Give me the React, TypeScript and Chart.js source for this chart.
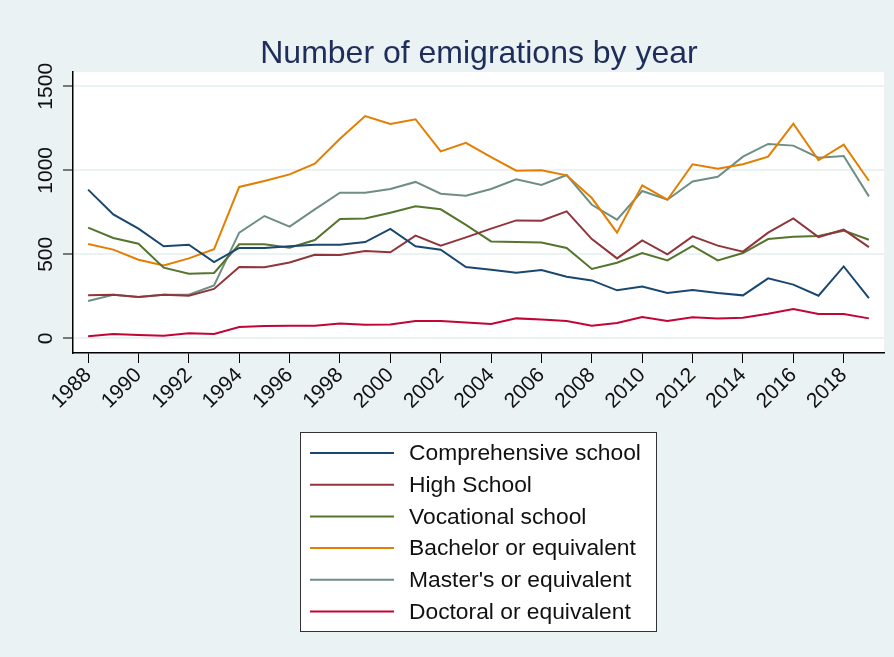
import React, { useEffect, useRef } from "react";
import { Chart, registerables } from "chart.js";

Chart.register(...registerables);

const years = [1988,1989,1990,1991,1992,1993,1994,1995,1996,1997,1998,1999,2000,2001,2002,2003,2004,2005,2006,2007,2008,2009,2010,2011,2012,2013,2014,2015,2016,2017,2018,2019];

const comprehensive = [885,738,653,548,557,454,538,538,548,557,557,573,651,548,528,425,409,391,407,367,345,286,308,270,288,270,256,357,320,254,428,240];
const highSchool = [256,260,246,260,254,294,425,423,452,498,496,520,512,611,552,601,653,702,700,756,591,476,583,500,607,552,516,629,714,603,647,543];
const vocational = [659,597,563,421,385,389,560,560,540,585,711,713,748,786,768,675,577,573,571,538,413,450,508,464,550,464,508,591,605,609,641,587];
const bachelor = [561,528,468,434,476,530,901,937,976,1040,1188,1323,1276,1304,1113,1163,1079,998,1000,970,835,629,911,825,1036,1010,1036,1081,1278,1060,1153,938];
const masters = [222,260,246,260,260,315,629,728,665,768,867,867,889,931,861,849,889,946,913,972,795,706,877,825,934,962,1081,1157,1147,1075,1085,845];
const doctoral = [12,26,20,16,30,26,67,73,75,75,89,81,83,103,103,95,85,119,113,103,75,91,127,103,125,119,123,147,175,145,145,119];

const seriesLabels = ["Comprehensive school","High School","Vocational school","Bachelor or equivalent","Master's or equivalent","Doctoral or equivalent"];
const seriesColors = ["#1A476F","#90353B","#55752F","#E37E00","#6E8E84","#C10534"];
const seriesValues = [comprehensive, highSchool, vocational, bachelor, masters, doctoral];

const xTickValues = [1988,1990,1992,1994,1996,1998,2000,2002,2004,2006,2008,2010,2012,2014,2016,2018];
const yTickValues = [0,500,1000,1500];

const titleText = "Number of emigrations by year";
const BG = "#EAF2F3";
const FONT = "'Liberation Sans', Arial, sans-serif";

const decorPlugin = {
  id: "decor",
  beforeDraw(chart: any) {
    const { ctx, chartArea } = chart;
    ctx.save();
    ctx.fillStyle = BG;
    ctx.fillRect(0, 0, chart.width, chart.height);
    ctx.fillStyle = "#FFFFFF";
    ctx.fillRect(chartArea.left, chartArea.top, chartArea.right - chartArea.left, chartArea.bottom - chartArea.top);
    ctx.restore();
  },
  afterDraw(chart: any) {
    const { ctx } = chart;
    ctx.save();
    // title
    ctx.fillStyle = "#1E2D59";
    ctx.font = `32px ${FONT}`;
    ctx.textAlign = "center";
    ctx.textBaseline = "alphabetic";
    ctx.fillText(titleText, 479, 63);
    // legend
    const bx = 300, by = 432, bw = 357, bh = 200;
    ctx.fillStyle = "#FFFFFF";
    ctx.fillRect(bx, by, bw, bh);
    ctx.strokeStyle = "#333333";
    ctx.lineWidth = 1;
    ctx.strokeRect(bx + 0.5, by + 0.5, bw - 1, bh - 1);
    const ds = chart.data.datasets;
    ctx.font = `22.8px ${FONT}`;
    ctx.textAlign = "left";
    ctx.textBaseline = "middle";
    for (let i = 0; i < ds.length; i++) {
      const y = 453 + i * 31.7;
      ctx.strokeStyle = ds[i].borderColor;
      ctx.lineWidth = 2;
      ctx.beginPath();
      ctx.moveTo(310, y);
      ctx.lineTo(394, y);
      ctx.stroke();
      ctx.fillStyle = "#111111";
      ctx.fillText(ds[i].label, 409, y + 1);
    }
    ctx.restore();
  },
};

export default function App() {
  const ref = useRef<HTMLCanvasElement | null>(null);
  useEffect(() => {
    if (!ref.current) return;
    const chart = new Chart(ref.current, {
      type: "line",
      data: {
        datasets: seriesLabels.map((label, i) => ({
          label,
          data: years.map((yr, j) => ({ x: yr, y: seriesValues[i][j] })),
          borderColor: seriesColors[i],
          backgroundColor: seriesColors[i],
          borderWidth: 2,
          pointRadius: 0,
          tension: 0,
          fill: false,
        })),
      },
      options: {
        responsive: false,
        animation: false,
        devicePixelRatio: 1,
        layout: { padding: { left: 0, top: 72, right: 10, bottom: 0 } },
        plugins: {
          legend: { display: false },
          title: { display: false },
          tooltip: { enabled: false },
        },
        scales: {
          x: {
            type: "linear",
            min: 1987.4,
            max: 2019.6,
            afterBuildTicks: (scale: any) => {
              scale.ticks = xTickValues.map((v) => ({ value: v }));
            },
            afterFit: (scale: any) => {
              scale.height = 304;
            },
            ticks: {
              autoSkip: false,
              minRotation: 45,
              maxRotation: 45,
              padding: 0,
              color: "#111111",
              font: { family: FONT, size: 21 },
              callback: (v: any) => String(v),
            },
            grid: {
              drawOnChartArea: false,
              tickLength: 10,
              tickColor: "#000000",
              tickWidth: 1,
            },
            border: { display: true, color: "#000000", width: 1.5 },
          },
          y: {
            type: "linear",
            min: -87,
            max: 1585,
            afterBuildTicks: (scale: any) => {
              scale.ticks = yTickValues.map((v) => ({ value: v }));
            },
            afterFit: (scale: any) => {
              scale.width = 73;
            },
            ticks: {
              minRotation: 90,
              maxRotation: 90,
              crossAlign: "center",
              padding: -7,
              color: "#111111",
              font: { family: FONT, size: 21 },
              callback: (v: any) => String(v),
            },
            grid: {
              color: BG,
              lineWidth: 2,
              tickLength: 10,
              tickColor: "#000000",
              tickWidth: 1,
            },
            border: { display: true, color: "#000000", width: 1.5 },
          },
        },
      },
      plugins: [decorPlugin],
    });
    return () => chart.destroy();
  }, []);
  return (
    <div style={{ position: "fixed", left: 0, top: 0, width: 894, height: 657 }}>
      <canvas ref={ref} width={894} height={657} style={{ width: 894, height: 657, display: "block" }} />
    </div>
  );
}
